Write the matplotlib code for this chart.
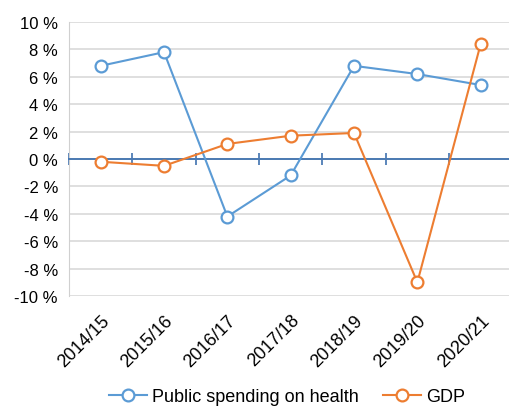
import numpy as np
import matplotlib
matplotlib.use('Agg')
import matplotlib.pyplot as pl

# data (percent change)
years = ['2014/15', '2015/16', '2016/17', '2017/18', '2018/19', '2019/20', '2020/21']
health = [6.8, 7.8, -4.2, -1.2, 6.8, 6.2, 5.4]
gdp = [-0.2, -0.5, 1.1, 1.7, 1.9, -9.0, 8.4]

pl.rcParams['font.family'] = ['Liberation Sans', 'DejaVu Sans']
pl.rcParams['font.size'] = 12

f = pl.figure(figsize=(5.09, 4.10), dpi=100)
ax = f.add_axes([0.1356, 0.2756, 0.871, 0.6683])

x = np.arange(len(years))
ax.plot(x, health, '-o', color='#5B9BD5', lw=1.5, ms=8.5, mfc='white',
        mew=1.6, label='Public spending on health', zorder=4)
ax.plot(x, gdp, '-o', color='#ED7D31', lw=1.5, ms=8.5, mfc='white',
        mew=1.6, label='GDP', zorder=4)

ax.set_xlim(-0.5, len(years) - 0.5)
ax.set_ylim(-10, 10)
ax.set_yticks(np.arange(-10, 11, 2))
ax.set_yticklabels([f'{v} %' for v in range(-10, 11, 2)])
ax.tick_params(axis='y', length=0, pad=8, colors='black')
ax.yaxis.grid(True, color='#D9D9D9', lw=1.2)
ax.set_axisbelow(True)

# horizontal axis line at zero with ticks between the categories
ax.spines['bottom'].set_position(('data', 0))
ax.spines['bottom'].set_color('#3F72AF')
ax.spines['bottom'].set_linewidth(1.3)
ax.spines['bottom'].set_zorder(3)
ax.set_xticks(np.arange(-0.5, len(years), 1.0))
ax.set_xticklabels([])
ax.tick_params(axis='x', direction='inout', length=9, width=1.2, color='#3F72AF')
ax.spines['left'].set_color('#D0D0D0')
ax.spines['top'].set_visible(False)
ax.spines['right'].set_visible(False)

# category labels at the bottom of the plot
sec = ax.secondary_xaxis(0)
sec.set_xticks(x)
sec.set_xticklabels(years, rotation=45, ha='right', rotation_mode='anchor', fontsize=13)
sec.tick_params(length=0, pad=11)
sec.spines['bottom'].set_visible(False)

ax.legend(loc='center', bbox_to_anchor=(287 / 509, 0.03), bbox_transform=f.transFigure,
          ncol=2, frameon=False, fontsize=13, handlelength=2.1, handletextpad=0.3,
          columnspacing=1.3, borderaxespad=0, borderpad=0)

pl.savefig('out.png', dpi=100)
